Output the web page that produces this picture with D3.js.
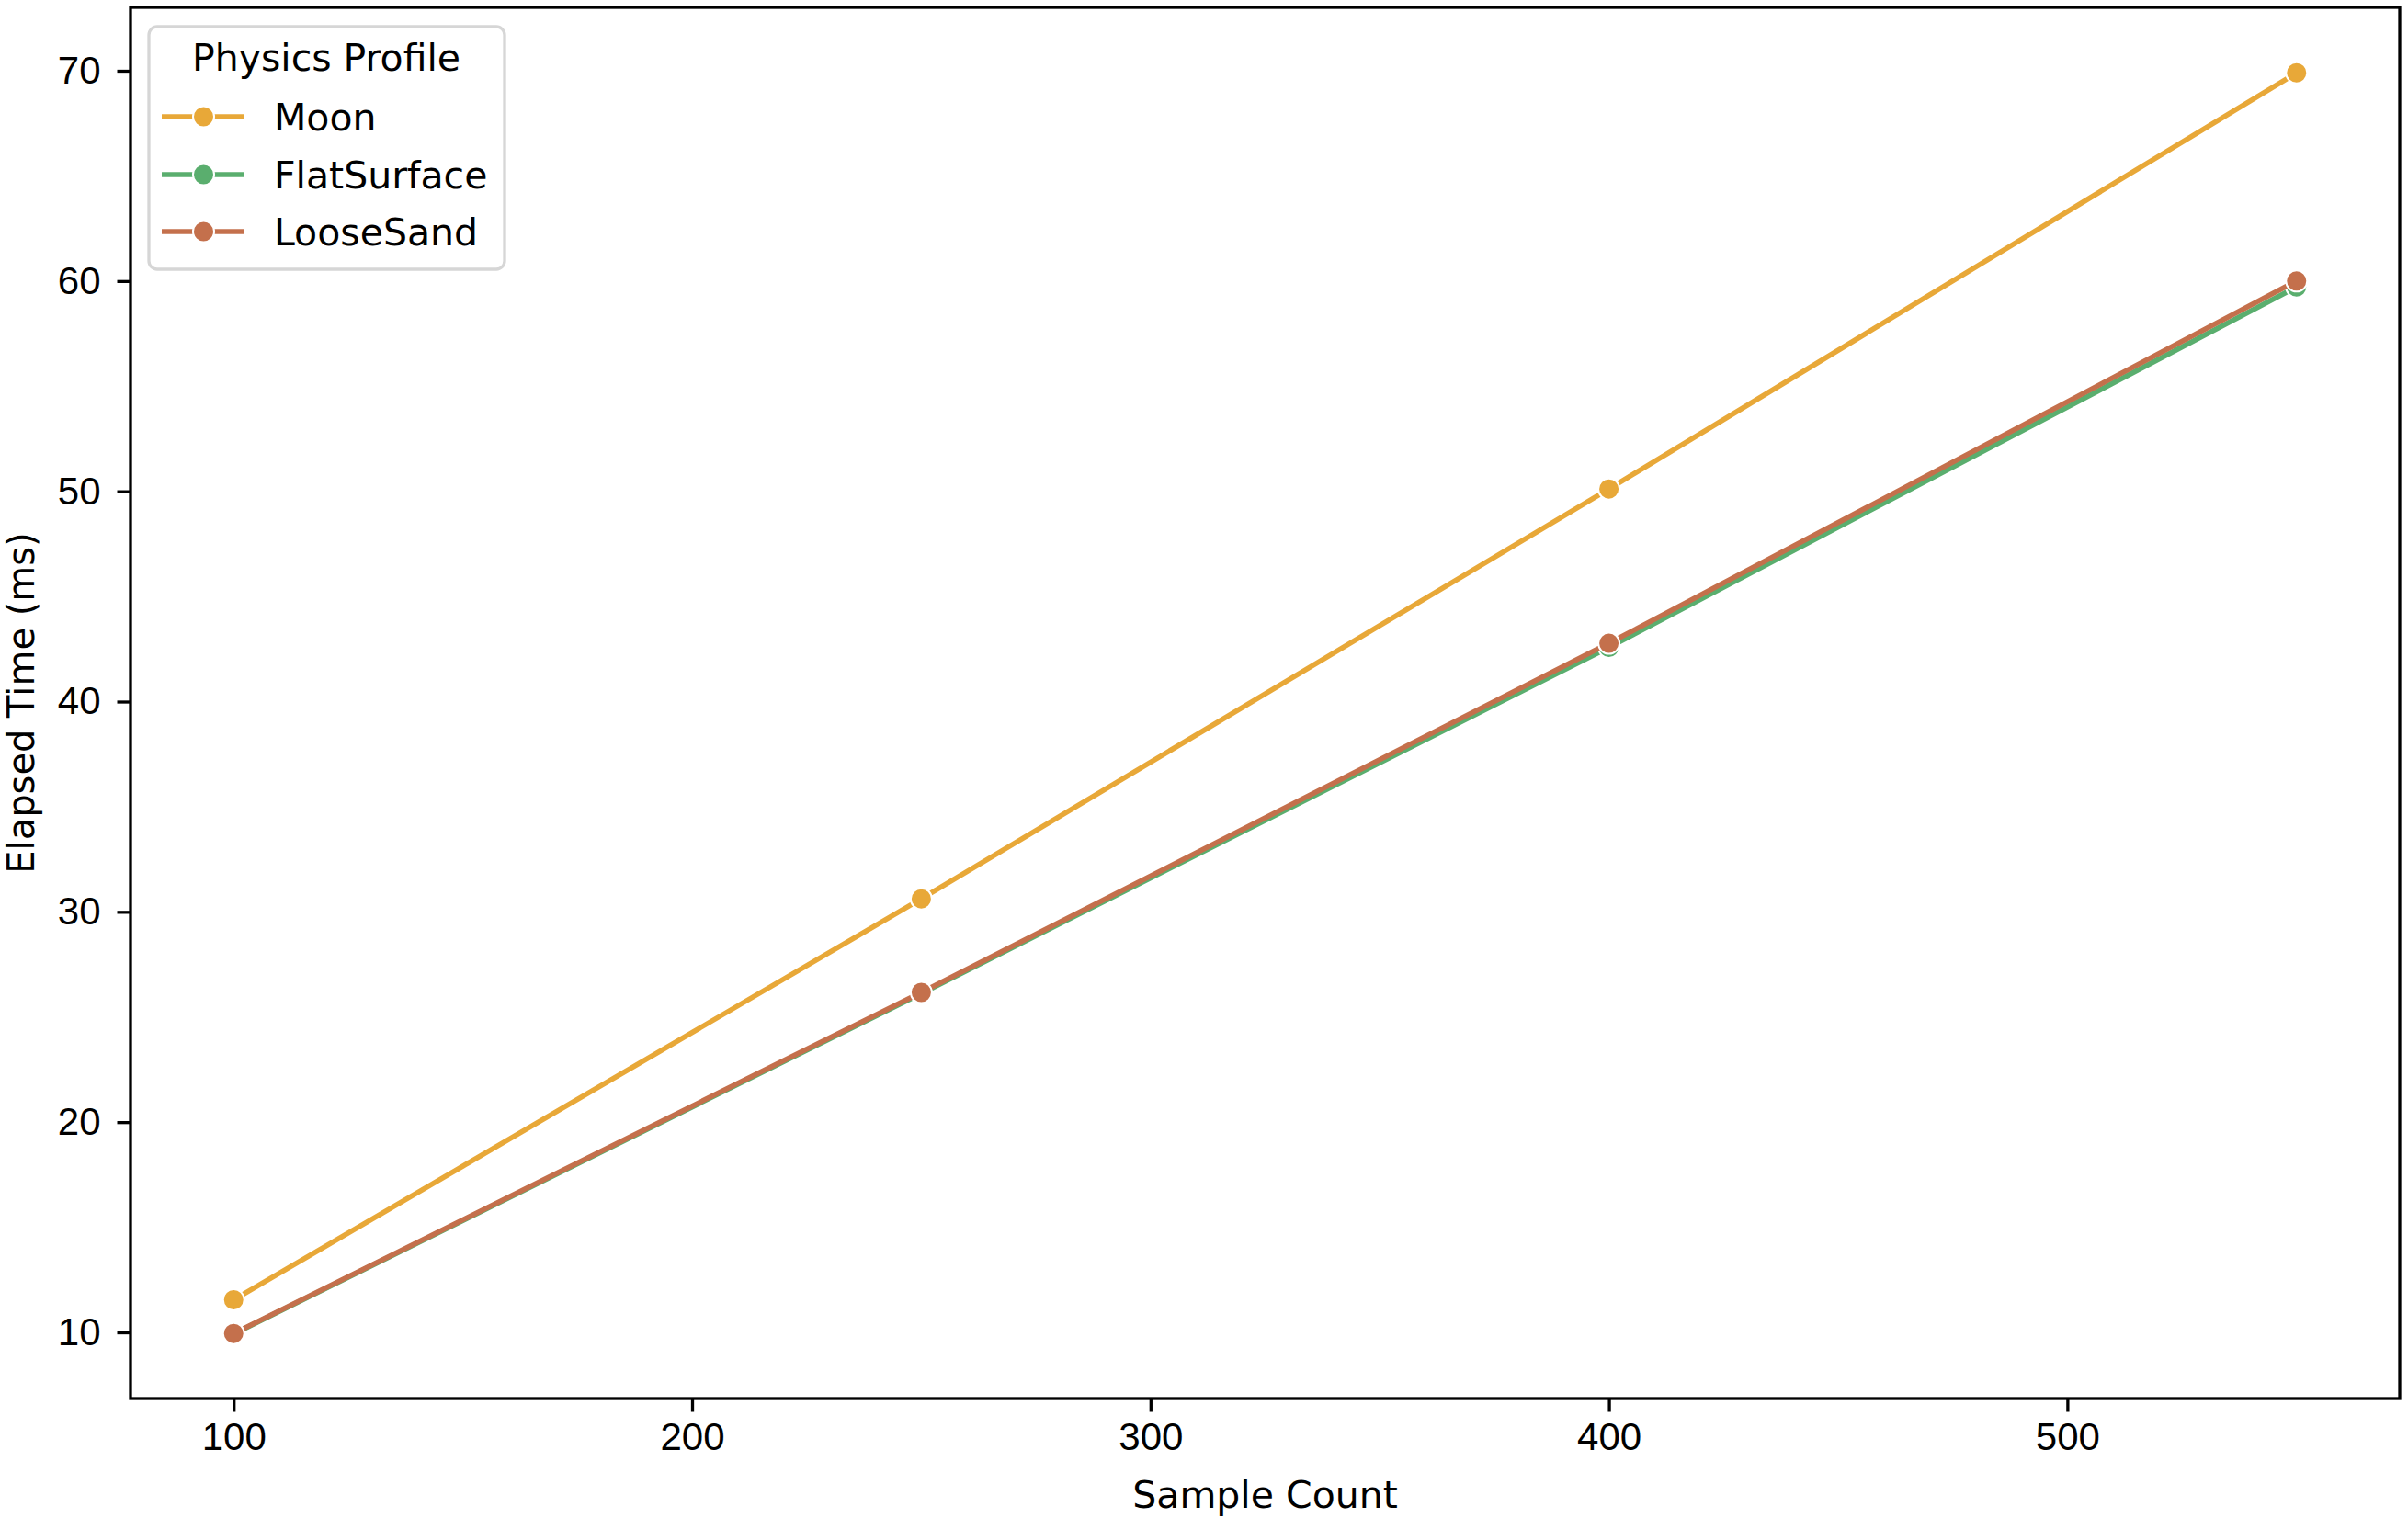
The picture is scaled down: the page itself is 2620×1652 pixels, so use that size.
<!DOCTYPE html>
<html lang="en">
<head>
    <meta charset="UTF-8">
    <title>Elapsed Time by Sample Count</title>
    <style>
        html, body {
            margin: 0;
            padding: 0;
            background: #fff;
        }
        svg {
            display: block;
            font-family: "DejaVu Sans", sans-serif;
        }
        .axis path, .axis line {
            stroke: #000;
            stroke-width: 3.3px;
        }
        .axis text {
            font-size: 42px;
            fill: #000;
        }
        .series-line {
            fill: none;
            stroke-width: 5.6px;
        }
    </style>
</head>
<body>
<svg width="2620" height="1652"></svg>

<script src="https://d3js.org/d3.v7.min.js"></script>
<script>
    // chart data
    const sampleCounts = [100, 250, 400, 550];
    const seriesNames = ["Moon", "FlatSurface", "LooseSand"];
    const moon = [11.55, 30.62, 50.11, 69.9];
    const flatSurface = [9.92, 26.12, 42.58, 59.72];
    const looseSand = [9.95, 26.17, 42.77, 60.0];
    const xTicks = [100, 200, 300, 400, 500];
    const yTicks = [10, 20, 30, 40, 50, 60, 70];

    const colors = ["#e8a838", "#5aae6e", "#c4704c"];
    const seriesValues = [moon, flatSurface, looseSand];

    const plot = {left: 142, right: 2611, top: 8, bottom: 1522};

    const svg = d3.select("svg");

    const x = d3.scaleLinear()
        .domain([77.5, 572.5])
        .range([plot.left, plot.right]);

    const y = d3.scaleLinear()
        .domain([6.854, 73.015])
        .range([plot.bottom, plot.top]);

    // axes
    const xAxis = svg.append("g")
        .attr("class", "axis")
        .attr("transform", `translate(0,${plot.bottom})`)
        .call(d3.axisBottom(x).tickValues(xTicks).tickSize(14.5).tickPadding(12).tickSizeOuter(0));
    xAxis.select(".domain").remove();
    xAxis.selectAll("text").attr("dy", "0.71em");

    const yAxis = svg.append("g")
        .attr("class", "axis")
        .attr("transform", `translate(${plot.left},0)`)
        .call(d3.axisLeft(y).tickValues(yTicks).tickSize(14.5).tickPadding(18).tickSizeOuter(0));
    yAxis.select(".domain").remove();

    // frame
    svg.append("rect")
        .attr("x", plot.left)
        .attr("y", plot.top)
        .attr("width", plot.right - plot.left)
        .attr("height", plot.bottom - plot.top)
        .attr("fill", "none")
        .attr("stroke", "#000")
        .attr("stroke-width", 3.3);

    // axis labels
    svg.append("text")
        .attr("x", (plot.left + plot.right) / 2)
        .attr("y", 1641)
        .attr("text-anchor", "middle")
        .style("font-size", "41px")
        .text("Sample Count");

    svg.append("text")
        .attr("transform", `translate(37,${(plot.top + plot.bottom) / 2}) rotate(-90)`)
        .attr("text-anchor", "middle")
        .style("font-size", "40px")
        .text("Elapsed Time (ms)");

    // lines + markers
    const line = d3.line()
        .x(d => x(d[0]))
        .y(d => y(d[1]));

    seriesNames.forEach((name, i) => {
        const pts = sampleCounts.map((c, j) => [c, seriesValues[i][j]]);
        const g = svg.append("g");
        g.append("path")
            .attr("class", "series-line")
            .attr("stroke", colors[i])
            .attr("d", line(pts));
        g.selectAll("circle")
            .data(pts)
            .enter().append("circle")
            .attr("cx", d => x(d[0]))
            .attr("cy", d => y(d[1]))
            .attr("r", 11.5)
            .attr("fill", colors[i])
            .attr("stroke", "#fff")
            .attr("stroke-width", 2);
    });

    // legend
    const legend = svg.append("g");
    legend.append("rect")
        .attr("x", 162)
        .attr("y", 29)
        .attr("width", 387)
        .attr("height", 264)
        .attr("rx", 9)
        .attr("fill", "#fff")
        .attr("fill-opacity", 0.8)
        .attr("stroke", "#d6d6d6")
        .attr("stroke-width", 3.3);

    legend.append("text")
        .attr("x", 355)
        .attr("y", 77)
        .attr("text-anchor", "middle")
        .style("font-size", "41px")
        .text("Physics Profile");

    const rowY = [127, 190, 252];
    seriesNames.forEach((name, i) => {
        const row = legend.append("g").attr("transform", `translate(0,${rowY[i]})`);
        row.append("line")
            .attr("x1", 176).attr("x2", 266)
            .attr("y1", 0).attr("y2", 0)
            .attr("stroke", colors[i])
            .attr("stroke-width", 5.6);
        row.append("circle")
            .attr("cx", 221.5)
            .attr("cy", 0)
            .attr("r", 11.5)
            .attr("fill", colors[i])
            .attr("stroke", "#fff")
            .attr("stroke-width", 2);
        row.append("text")
            .attr("x", 298)
            .attr("y", 15)
            .style("font-size", "41px")
            .text(name);
    });
</script>

</body>
</html>
